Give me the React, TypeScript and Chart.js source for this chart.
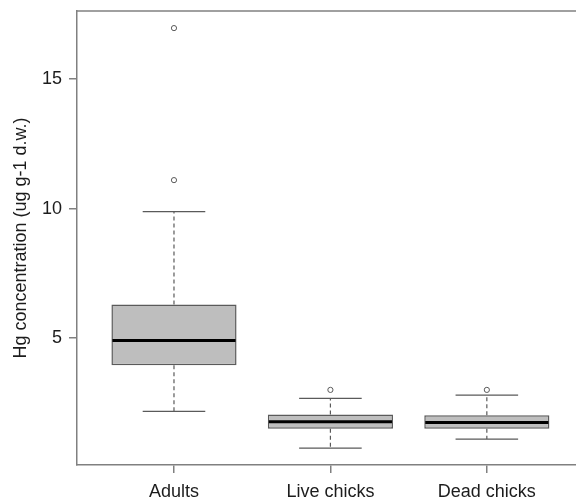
import React, { useEffect, useRef } from "react";
import { Chart, registerables } from "chart.js";

Chart.register(...registerables);

const categories = ["Adults", "Live chicks", "Dead chicks"];
const lowerWhisker = [2.17, 0.75, 1.1];
const q1 = [3.95, 1.5, 1.5];
const median = [4.91, 1.77, 1.74];
const q3 = [6.3, 2.05, 2.02];
const upperWhisker = [9.88, 2.67, 2.8];
const outliers = [[16.97, 11.1], [3.0], [3.0]];
const yTicks = [5, 10, 15];
const yTitle = "Hg concentration (ug g-1 d.w.)";

const FONT = "'Liberation Sans', Arial, Helvetica, sans-serif";
const LINE = "#5a5a5a";
const AXIS = "#808080";
const TEXT = "#1c1c1c";

const boxPlugin = {
  id: "boxParts",
  beforeDatasetsDraw(chart: any) {
    const { ctx, scales } = chart;
    const x = scales.x;
    const y = scales.y;
    ctx.save();
    ctx.strokeStyle = LINE;
    ctx.lineWidth = 1.2;
    categories.forEach((_, i) => {
      const cx = x.getPixelForValue(i + 1);
      const capL = x.getPixelForValue(i + 1 - 0.2);
      const capR = x.getPixelForValue(i + 1 + 0.2);
      ctx.setLineDash([4, 3]);
      ctx.beginPath();
      ctx.moveTo(cx, y.getPixelForValue(q3[i]));
      ctx.lineTo(cx, y.getPixelForValue(upperWhisker[i]));
      ctx.moveTo(cx, y.getPixelForValue(q1[i]));
      ctx.lineTo(cx, y.getPixelForValue(lowerWhisker[i]));
      ctx.stroke();
      ctx.setLineDash([]);
      ctx.beginPath();
      ctx.moveTo(capL, y.getPixelForValue(upperWhisker[i]));
      ctx.lineTo(capR, y.getPixelForValue(upperWhisker[i]));
      ctx.moveTo(capL, y.getPixelForValue(lowerWhisker[i]));
      ctx.lineTo(capR, y.getPixelForValue(lowerWhisker[i]));
      ctx.stroke();
    });
    ctx.restore();
  },
  afterDatasetsDraw(chart: any) {
    const { ctx, scales, chartArea } = chart;
    const x = scales.x;
    const y = scales.y;
    ctx.save();
    ctx.strokeStyle = "#000000";
    ctx.lineWidth = 3;
    categories.forEach((_, i) => {
      const l = x.getPixelForValue(i + 1 - 0.4);
      const r = x.getPixelForValue(i + 1 + 0.4);
      const my = y.getPixelForValue(median[i]);
      ctx.beginPath();
      ctx.moveTo(l + 1, my);
      ctx.lineTo(r - 1, my);
      ctx.stroke();
    });
    ctx.strokeStyle = AXIS;
    ctx.lineWidth = 1.5;
    ctx.beginPath();
    ctx.moveTo(chartArea.left, chartArea.top);
    ctx.lineTo(chartArea.right, chartArea.top);
    ctx.stroke();
    ctx.restore();
  },
};

export default function App() {
  const ref = useRef<HTMLCanvasElement>(null);
  useEffect(() => {
    if (!ref.current) return;
    const outlierPoints: { x: number; y: number }[] = [];
    outliers.forEach((arr, i) => arr.forEach((v) => outlierPoints.push({ x: i + 1, y: v })));
    const chart = new Chart(ref.current, {
      type: "bar",
      data: {
        datasets: [
          {
            type: "bar",
            data: categories.map((_, i) => ({ x: i + 1, y: [q1[i], q3[i]] })) as any,
            backgroundColor: "#bebebe",
            borderColor: LINE,
            borderWidth: 1.5,
            borderSkipped: false,
            barPercentage: 0.8,
            categoryPercentage: 1,
          } as any,
          {
            type: "scatter",
            data: outlierPoints,
            pointRadius: 2.6,
            pointBackgroundColor: "#ffffff",
            pointBorderColor: LINE,
            pointBorderWidth: 1,
          } as any,
        ],
      },
      options: {
        animation: false,
        responsive: true,
        maintainAspectRatio: false,
        layout: { autoPadding: false, padding: { top: 11, left: 0, right: 0, bottom: 0 } },
        plugins: { legend: { display: false }, tooltip: { enabled: false } },
        scales: {
          x: {
            type: "linear",
            min: 0.38,
            max: 3.57,
            offset: false,
            afterBuildTicks: (s: any) => {
              s.ticks = categories.map((_, i) => ({ value: i + 1 }));
            },
            afterFit: (s: any) => {
              s.height = 37;
              s.paddingLeft = 0;
              s.paddingRight = 0;
            },
            grid: { offset: false, drawOnChartArea: false, drawTicks: true, tickLength: 8, color: AXIS, lineWidth: 1.5 },
            border: { display: true, color: AXIS, width: 1.5 },
            ticks: {
              autoSkip: false,
              maxRotation: 0,
              padding: 8,
              color: TEXT,
              font: { family: FONT, size: 18 },
              callback: (v: any) => categories[Math.round(Number(v)) - 1] ?? "",
            },
          },
          y: {
            type: "linear",
            min: 0.1,
            max: 17.63,
            afterBuildTicks: (s: any) => {
              s.ticks = yTicks.map((v) => ({ value: v }));
            },
            afterFit: (s: any) => {
              s.width = 77;
              s.paddingTop = 0;
              s.paddingBottom = 0;
            },
            grid: { drawOnChartArea: false, drawTicks: true, tickLength: 8, color: AXIS, lineWidth: 1.5 },
            border: { display: true, color: AXIS, width: 1.5 },
            ticks: {
              padding: 7,
              color: TEXT,
              font: { family: FONT, size: 18 },
            },
            title: {
              display: true,
              text: yTitle,
              color: TEXT,
              font: { family: FONT, size: 18 },
              padding: { top: 10, bottom: 0 },
            },
          },
        },
      },
      plugins: [boxPlugin],
    });
    return () => chart.destroy();
  }, []);
  return (
    <div style={{ position: "fixed", left: 0, top: 0, width: 576, height: 502, background: "#fff" }}>
      <canvas ref={ref} />
    </div>
  );
}
